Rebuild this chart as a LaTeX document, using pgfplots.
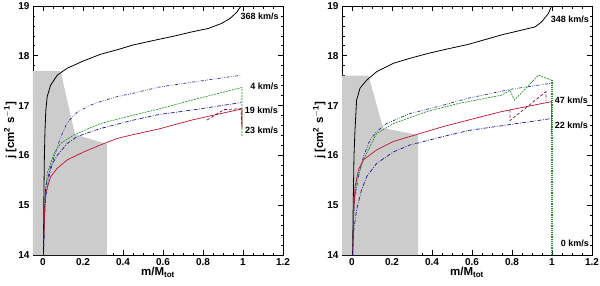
\documentclass[border=0pt]{standalone}
\usepackage{pgfplots}
\pgfplotsset{compat=1.18}
\usepackage{fontspec}
\setmainfont{Liberation Sans}
\definecolor{cblue}{HTML}{1A1AA0}
\definecolor{cgreen}{HTML}{1E8C1E}
\definecolor{cred}{HTML}{C0102E}
\definecolor{cdred}{HTML}{801040}
\tikzset{lab/.style={anchor=west, inner sep=0pt, font=\bfseries\fontsize{9}{10}\selectfont}}
\pgfplotsset{
  panel/.style={
    scale only axis, width=250pt, height=249pt,
    xmin=-0.05, xmax=1.2, ymin=14, ymax=19,
    xtick={0,0.2,0.4,0.6,0.8,1,1.2},
    xticklabels={0,0.2,0.4,0.6,0.8,1,1.2},
    ytick={14,15,16,17,18,19},
    minor x tick num=3, minor y tick num=4,
    tick align=inside, major tick length=5pt, minor tick length=2.5pt,
    tick style={black, line width=0.7pt},
    axis line style={line width=0.8pt},
    xticklabel style={font=\bfseries\fontsize{10}{11}\selectfont},
    yticklabel style={font=\bfseries\fontsize{10}{11}\selectfont},
    /pgf/number format/assume math mode=true,
    xlabel={\bfseries m/M$_{\mathbf{tot}}$},
    ylabel={\bfseries j [cm$^{\mathbf 2}$ s$^{\mathbf{-1}}$]},
    label style={font=\fontsize{11.5}{12}\selectfont},
    xlabel style={yshift=5pt},
    ylabel style={yshift=-5pt},
    clip=true,
  },
}
\begin{document}
\begin{tikzpicture}
\begin{axis}[panel, at={(0pt,0pt)}, anchor=south west]
\addplot[fill=black!20, draw=none] coordinates {(-0.05,14) (-0.05,17.69) (0.088,17.69) (0.16,16.42) (0.32,16.23) (0.32,14)} \closedcycle;
\addplot[black, line width=0.8pt] coordinates {(0.002,14) (0.004,15) (0.007,16) (0.010,16.5) (0.014,16.9) (0.021,17.18) (0.038,17.41) (0.071,17.61) (0.121,17.75) (0.204,17.9) (0.287,18.03) (0.37,18.12) (0.453,18.22) (0.578,18.33) (0.661,18.40) (0.744,18.48) (0.827,18.55) (0.893,18.65) (0.935,18.75) (0.968,18.87) (0.99,19.0)};
\addplot[cblue, line width=0.65pt, dash pattern=on 3pt off 1.5pt on 0.6pt off 1.5pt on 0.6pt off 1.5pt] coordinates {(0.003,14) (0.006,14.6) (0.013,15.1) (0.03,15.57) (0.055,15.97) (0.088,16.36) (0.121,16.66) (0.171,16.87) (0.238,17.01) (0.287,17.08) (0.37,17.18) (0.453,17.25) (0.578,17.37) (0.744,17.47) (0.99,17.61)};
\addplot[cgreen, line width=0.65pt, dash pattern=on 2pt off 1pt] coordinates {(0.004,14.2) (0.008,15.0) (0.021,15.64) (0.055,16.04) (0.088,16.24) (0.154,16.41) (0.287,16.64) (0.453,16.81) (0.578,16.93) (0.744,17.11) (0.99,17.36) (0.995,17.36) (0.995,16.38)};
\addplot[cblue, line width=0.7pt, dash pattern=on 4pt off 1.5pt on 0.8pt off 1.5pt] coordinates {(0.003,14) (0.007,14.8) (0.013,15.37) (0.038,15.77) (0.071,16.0) (0.121,16.24) (0.171,16.38) (0.287,16.54) (0.453,16.71) (0.578,16.82) (0.744,16.91) (0.99,17.06)};
\addplot[cred, line width=0.7pt] coordinates {(0.004,14.3) (0.008,14.9) (0.013,15.24) (0.038,15.57) (0.071,15.74) (0.121,15.91) (0.204,16.07) (0.287,16.21) (0.37,16.34) (0.453,16.42) (0.578,16.53) (0.744,16.71) (0.99,16.93) (0.995,16.93) (0.995,16.58)};
\addplot[cdred, line width=0.7pt, dash pattern=on 3pt off 2pt] coordinates {(0.82,16.71) (0.905,16.92) (0.99,16.94) (0.995,16.55)};
\node[lab] at (axis cs:0.987,18.80) {368 km/s};
\node[lab] at (axis cs:1.036,17.39) {4 km/s};
\node[lab] at (axis cs:1.008,16.91) {19 km/s};
\node[lab] at (axis cs:1.010,16.51) {23 km/s};
\end{axis}
\begin{axis}[panel, at={(309pt,0pt)}, anchor=south west]
\addplot[fill=black!20, draw=none] coordinates {(-0.05,14) (-0.05,17.6) (0.083,17.6) (0.155,16.55) (0.331,16.41) (0.331,14)} \closedcycle;
\addplot[black, line width=0.8pt] coordinates {(0.003,14) (0.006,15) (0.01,16) (0.015,16.51) (0.023,17.11) (0.04,17.35) (0.073,17.51) (0.123,17.68) (0.207,17.85) (0.29,17.95) (0.373,18.04) (0.457,18.12) (0.582,18.23) (0.748,18.42) (0.915,18.58) (0.948,18.68) (0.982,18.85) (0.998,19)};
\addplot[cblue, line width=0.65pt, dash pattern=on 3pt off 1.5pt on 0.6pt off 1.5pt on 0.6pt off 1.5pt] coordinates {(0.003,14) (0.007,14.78) (0.015,15.17) (0.032,15.57) (0.057,15.97) (0.09,16.31) (0.123,16.48) (0.173,16.64) (0.29,16.84) (0.457,17.01) (0.582,17.15) (0.798,17.33) (0.998,17.45)};
\addplot[cgreen, line width=0.65pt, dash pattern=on 2pt off 1pt] coordinates {(0.004,14.2) (0.01,15.0) (0.023,15.51) (0.057,15.91) (0.123,16.44) (0.207,16.64) (0.373,16.88) (0.54,17.05) (0.582,17.08) (0.748,17.21) (0.79,17.31) (0.812,17.11) (0.932,17.61) (0.973,17.55) (0.998,17.51)};
\addplot[cgreen, line width=1.2pt, dash pattern=on 1.2pt off 1pt] coordinates {(1.0,17.51) (1.0,14)};
\addplot[cred, line width=0.7pt] coordinates {(0.004,14.1) (0.008,14.8) (0.015,15.37) (0.032,15.71) (0.057,15.91) (0.123,16.11) (0.207,16.28) (0.29,16.38) (0.457,16.58) (0.582,16.71) (0.748,16.88) (0.998,17.08) (0.998,16.45)};
\addplot[cdred, line width=0.7pt, dash pattern=on 3pt off 2pt] coordinates {(0.79,16.92) (0.79,16.70) (0.97,17.28) (0.97,17.1)};
\addplot[cblue, line width=0.7pt, dash pattern=on 4pt off 1.5pt on 0.8pt off 1.5pt] coordinates {(0.004,14.0) (0.007,14.44) (0.023,14.91) (0.048,15.31) (0.073,15.57) (0.123,15.84) (0.207,16.07) (0.29,16.21) (0.457,16.38) (0.582,16.5) (0.998,16.74)};
\node[lab] at (axis cs:0.993,18.73) {348 km/s};
\node[lab] at (axis cs:1.013,17.11) {47 km/s};
\node[lab] at (axis cs:1.013,16.61) {22 km/s};
\node[lab] at (axis cs:1.043,14.23) {0 km/s};
\end{axis}
\pgfresetboundingbox
\path[use as bounding box] (-33pt,-30pt) rectangle (567pt,255pt);
\end{tikzpicture}
\end{document}
